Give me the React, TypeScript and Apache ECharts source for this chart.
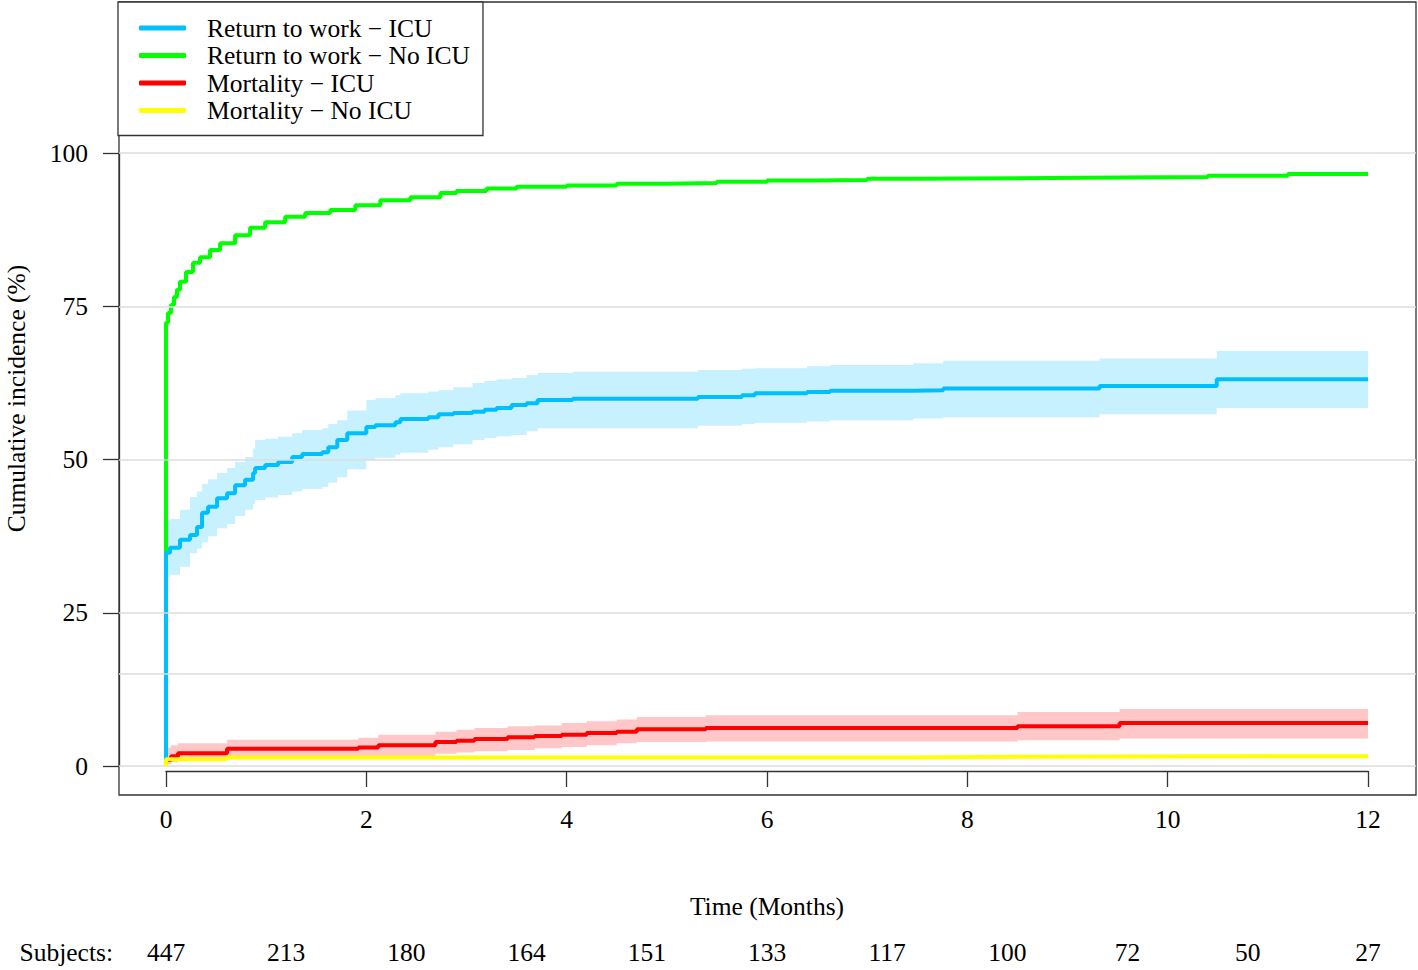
import React, { useEffect, useRef } from "react";
import * as echarts from "echarts";

// ---- Data ----
const seriesNames = [
  "Return to work \u2212 ICU",
  "Return to work \u2212 No ICU",
  "Mortality \u2212 ICU",
  "Mortality \u2212 No ICU",
];
const seriesColors = ["#00BFFF", "#00FF00", "#FF0000", "#FFFF00"];

const xTicks = [0, 2, 4, 6, 8, 10, 12];
const yTicks = [0, 25, 50, 75, 100];
const gridLineValues = [0, 15, 25, 50, 75, 100];

const subjectsAtRisk = ["447", "213", "180", "164", "151", "133", "117", "100", "72", "50", "27"];

// Return to work - ICU (blue)
const blueT = [0, 0.04, 0.14, 0.24, 0.31, 0.36, 0.42, 0.51, 0.61, 0.69, 0.79, 0.87, 0.89, 0.99, 1.12, 1.26, 1.36, 1.56, 1.62, 1.71, 1.81, 2.0, 2.09, 2.29, 2.34, 2.62, 2.72, 2.87, 3.06, 3.18, 3.3, 3.45, 3.6, 3.71, 4.06, 5.31, 5.75, 5.88, 6.4, 6.63, 7.46, 7.76, 9.32, 10.49, 12];
const blueV = [34.8, 35.6, 36.9, 37.7, 39.0, 41.3, 42.3, 43.7, 44.5, 45.8, 46.7, 47.8, 48.6, 49.1, 49.6, 50.4, 50.9, 51.2, 52.0, 53.2, 54.3, 55.3, 55.6, 56.1, 56.6, 56.9, 57.4, 57.6, 57.8, 58.1, 58.4, 58.9, 59.2, 59.7, 59.9, 60.2, 60.5, 60.8, 61.0, 61.2, 61.3, 61.6, 62.0, 63.1, 63.1];
const blueLo = [30.8, 31.2, 32.5, 34.7, 35.5, 36.5, 37.5, 38.8, 39.5, 40.8, 41.8, 42.8, 43.4, 43.8, 44.2, 44.8, 45.2, 45.5, 46.2, 47.1, 48.4, 49.9, 50.3, 50.8, 51.1, 51.6, 52.0, 52.5, 53.2, 53.5, 53.8, 54.0, 54.6, 55.1, 55.1, 55.5, 55.8, 56.0, 56.2, 56.4, 56.7, 56.9, 57.4, 58.4, 58.4];
const blueHi = [40.1, 40.3, 41.8, 43.9, 44.8, 46.0, 46.8, 47.8, 48.6, 49.6, 50.4, 51.8, 53.2, 53.4, 53.7, 54.3, 54.8, 55.1, 55.8, 56.4, 58.0, 59.7, 60.0, 60.5, 60.8, 61.1, 61.3, 61.8, 62.5, 62.8, 63.1, 63.3, 63.8, 64.1, 64.3, 64.6, 64.8, 64.9, 65.2, 65.4, 65.7, 66.1, 66.5, 67.7, 67.7];

// Return to work - No ICU (green)
const greenT = [0, 0.02, 0.05, 0.08, 0.11, 0.14, 0.2, 0.27, 0.34, 0.44, 0.54, 0.69, 0.84, 0.99, 1.19, 1.39, 1.64, 1.89, 2.14, 2.44, 2.74, 2.9, 3.2, 3.5, 4.0, 4.5, 5.0, 5.5, 6.0, 6.5, 7.0, 7.5, 8.5, 9.5, 10.4, 11.2, 12];
const greenV = [72.3, 73.9, 75.2, 76.5, 77.7, 79.0, 80.6, 82.1, 83.0, 84.2, 85.3, 86.6, 87.8, 88.7, 89.6, 90.2, 90.7, 91.5, 92.3, 92.8, 93.5, 93.8, 94.2, 94.5, 94.7, 95.0, 95.1, 95.3, 95.5, 95.6, 95.8, 95.9, 96.0, 96.1, 96.3, 96.6, 96.6];

// Mortality - ICU (red)
const redT = [0, 0.05, 0.12, 0.61, 1.92, 2.12, 2.69, 2.9, 3.08, 3.41, 3.68, 3.95, 4.2, 4.5, 4.7, 5.39, 8.5, 9.52, 12];
const redV = [1.0, 1.6, 2.1, 2.8, 3.0, 3.4, 3.9, 4.1, 4.4, 4.7, 4.9, 5.1, 5.4, 5.6, 6.0, 6.2, 6.5, 7.0, 7.0];
const redLo = [0.3, 0.6, 0.8, 1.1, 1.3, 1.6, 2.0, 2.2, 2.4, 2.6, 2.9, 3.1, 3.4, 3.7, 3.9, 4.0, 4.2, 4.5, 4.5];
const redHi = [3.0, 3.4, 3.7, 4.3, 4.6, 5.1, 5.6, 5.9, 6.2, 6.5, 6.6, 7.0, 7.3, 7.6, 8.0, 8.3, 8.8, 9.3, 9.3];

// Mortality - No ICU (yellow)
const yelT = [0, 0.6, 7.4, 8.55, 12];
const yelV = [1.1, 1.4, 1.5, 1.6, 1.6];

// ---- Chart ----
const FONT = "'Liberation Serif', 'Times New Roman', Times, serif";
const textBase = { fontFamily: FONT, fontSize: 25.5, color: "#000" };

function stepLine(ts: number[], vs: number[]) {
  return [[0, 0], ...ts.map((t, i) => [t, vs[i]])];
}

function bandRenderer(ts: number[], lo: number[], hi: number[], fill: string) {
  return (params: any, api: any) => {
    if (params.dataIndex !== 0) return null;
    const pts: number[][] = [];
    const n = ts.length;
    for (let i = 0; i < n; i++) {
      const tn = i < n - 1 ? ts[i + 1] : ts[i];
      pts.push(api.coord([ts[i], hi[i]]));
      pts.push(api.coord([tn, hi[i]]));
    }
    for (let i = n - 1; i >= 0; i--) {
      const tn = i < n - 1 ? ts[i + 1] : ts[i];
      pts.push(api.coord([tn, lo[i]]));
      pts.push(api.coord([ts[i], lo[i]]));
    }
    return { type: "polygon", shape: { points: pts }, style: { fill } };
  };
}

export default function App() {
  const ref = useRef<HTMLDivElement>(null);

  useEffect(() => {
    if (!ref.current) return;
    const chart = echarts.init(ref.current, undefined, { renderer: "svg" });

    const lineSeries = (idx: number, ts: number[], vs: number[], z: number) => ({
      type: "line",
      name: seriesNames[idx],
      xAxisIndex: 0,
      yAxisIndex: 0,
      data: stepLine(ts, vs),
      step: "end",
      symbol: "none",
      showSymbol: false,
      color: seriesColors[idx],
      lineStyle: { color: seriesColors[idx], width: 4 },
      z,
      silent: true,
    });

    const option: any = {
      animation: false,
      backgroundColor: "#fff",
      grid: [
        { left: 119, top: 2, width: 1297, height: 793, show: true, borderColor: "#333", borderWidth: 1.3, backgroundColor: "transparent", containLabel: false, outerBoundsMode: "none" },
        { left: 166, width: 1202, top: 700, height: 71, outerBoundsMode: "none" },
        { left: 119, width: 10, top: 153, height: 613, outerBoundsMode: "none" },
        { left: 166, width: 1202, top: 898, height: 40, outerBoundsMode: "none" },
      ],
      xAxis: [
        { gridIndex: 0, type: "value", min: -0.469, max: 12.479, show: false },
        {
          gridIndex: 1,
          type: "value",
          min: xTicks[0],
          max: xTicks[xTicks.length - 1],
          interval: 2,
          axisLine: { show: true, lineStyle: { color: "#333", width: 1.3 } },
          axisTick: { show: true, length: 16, inside: false, lineStyle: { color: "#333", width: 1.3 } },
          axisLabel: { ...textBase, margin: 35 },
          splitLine: { show: false },
          name: "Time (Months)",
          nameLocation: "middle",
          nameGap: 122,
          nameTextStyle: { ...textBase },
        },
        { gridIndex: 2, type: "value", show: false, min: 0, max: 1 },
        {
          gridIndex: 3,
          type: "category",
          data: subjectsAtRisk,
          boundaryGap: false,
          axisLine: { show: false },
          axisTick: { show: false },
          axisLabel: { ...textBase, interval: 0, margin: 1 },
          splitLine: { show: false },
          name: "Subjects:",
          nameLocation: "start",
          nameGap: 53,
          nameTextStyle: { ...textBase, verticalAlign: "top", padding: [1, 0, 0, 0] },
        },
      ],
      yAxis: [
        {
          gridIndex: 0,
          type: "value",
          min: -4.73,
          max: 124.64,
          axisLine: { show: false },
          axisTick: { show: false },
          axisLabel: { show: false },
          splitLine: { show: false },
          name: "Cumulative incidence (%)",
          nameLocation: "middle",
          nameGap: 90,
          nameRotate: 90,
          nameTextStyle: { ...textBase },
        },
        { gridIndex: 1, type: "value", show: false, min: 0, max: 1 },
        {
          gridIndex: 2,
          type: "value",
          min: yTicks[0],
          max: yTicks[yTicks.length - 1],
          interval: 25,
          axisLine: { show: true, lineStyle: { color: "#333", width: 1.3 } },
          axisTick: { show: true, length: 16, inside: false, lineStyle: { color: "#333", width: 1.3 } },
          axisLabel: { ...textBase, margin: 31 },
          splitLine: { show: false },
        },
        { gridIndex: 3, type: "value", show: false, min: 0, max: 1 },
      ],
      legend: {
        orient: "vertical",
        left: 118,
        top: 2,
        data: seriesNames,
        icon: "roundRect",
        itemWidth: 47,
        itemHeight: 5,
        itemGap: 1.5,
        padding: [13, 13, 12, 21],
        borderColor: "#333",
        borderWidth: 1.3,
        backgroundColor: "#fff",
        selectedMode: false,
        textStyle: { ...textBase, padding: [0, 0, 0, 16] },
        z: 10,
      },
      series: [
        {
          type: "line",
          name: "gridlines",
          xAxisIndex: 0,
          yAxisIndex: 0,
          data: [[0, 0]],
          symbol: "none",
          lineStyle: { opacity: 0, width: 0 },
          silent: true,
          z: 0,
          markLine: {
            silent: true,
            symbol: ["none", "none"],
            label: { show: false },
            lineStyle: { color: "#DDDDDD", width: 1.5, type: "solid" },
            data: gridLineValues.map((v) => ({ yAxis: v })),
          },
        },
        {
          type: "custom",
          name: "blueBand",
          xAxisIndex: 0,
          yAxisIndex: 0,
          data: blueT.map((t, i) => [t, blueLo[i], blueHi[i]]),
          encode: { x: 0, y: 1 },
          renderItem: bandRenderer(blueT, blueLo, blueHi, "rgba(0,191,255,0.22)"),
          silent: true,
          z: 1,
        },
        {
          type: "custom",
          name: "redBand",
          xAxisIndex: 0,
          yAxisIndex: 0,
          data: redT.map((t, i) => [t, redLo[i], redHi[i]]),
          encode: { x: 0, y: 1 },
          renderItem: bandRenderer(redT, redLo, redHi, "rgba(255,0,0,0.22)"),
          silent: true,
          z: 1,
        },
        lineSeries(1, greenT, greenV, 3),
        lineSeries(0, blueT, blueV, 4),
        lineSeries(2, redT, redV, 5),
        lineSeries(3, yelT, yelV, 6),
      ],
    };

    chart.setOption(option);
    return () => chart.dispose();
  }, []);

  return (
    <div
      ref={ref}
      style={{ position: "fixed", left: 0, top: 0, width: 1418, height: 970, background: "#fff" }}
    />
  );
}
